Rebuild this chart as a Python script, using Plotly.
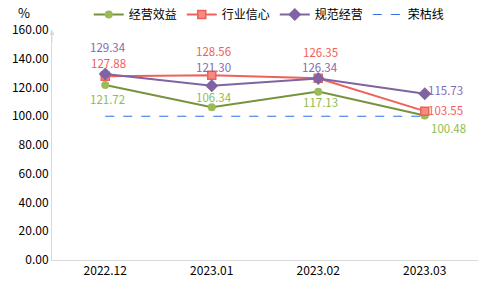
import plotly.graph_objects as go

categories = ["2022.12", "2023.01", "2023.02", "2023.03"]
jingying = [121.72, 106.34, 117.13, 100.48]
hangye = [127.88, 128.56, 126.35, 103.55]
guifan = [129.34, 121.30, 126.34, 115.73]
ronggu = [100, 100, 100, 100]

names = ["经营效益", "行业信心", "规范经营", "荣枯线"]

FONT = "Microsoft YaHei, Noto Sans CJK SC, sans-serif"
fig = go.Figure()

fig.add_trace(go.Scatter(x=categories, y=jingying, name=names[0], mode="lines+markers",
                         line=dict(color="#77933c", width=2),
                         marker=dict(symbol="circle", size=8, color="#9bbb59")))
fig.add_trace(go.Scatter(x=categories, y=hangye, name=names[1], mode="lines+markers",
                         line=dict(color="#f0605a", width=2),
                         marker=dict(symbol="square", size=8, color="#f58a84",
                                     line=dict(color="#f0605a", width=1.5))))
fig.add_trace(go.Scatter(x=categories, y=guifan, name=names[2], mode="lines+markers",
                         line=dict(color="#8064a2", width=2),
                         marker=dict(symbol="diamond", size=10, color="#8064a2")))
fig.add_trace(go.Scatter(x=categories, y=ronggu, name=names[3], mode="lines",
                         line=dict(color="#2f72e6", width=1.2, dash="dash")))

# label offsets (x shift, y shift) per series per point
label_specs = [
    (jingying, "#8fbc4f", [(2, -14), (2, 10), (2, -10), (24, -12)]),
    (hangye, "#f0605a", [(3, 13), (2, 24), (2, 26), (21, 1)]),
    (guifan, "#7f6bb0", [(3, 27), (2, 19), (2, 11), (21, 4)]),
]
for vals, col, offs in label_specs:
    for i, (v, (dx, dy)) in enumerate(zip(vals, offs)):
        fig.add_annotation(x=i, y=v, xref="x", yref="y", text=f"{v:.2f}", showarrow=False,
                           xshift=dx, yshift=dy, yanchor="middle", borderpad=0,
                           font=dict(family=FONT, size=11.5, color=col))

# y-axis arrow
fig.add_annotation(xref="paper", yref="paper", x=0, y=1.0, ax=0, ay=14,
                   showarrow=True, arrowhead=2, arrowsize=1, arrowwidth=1,
                   arrowcolor="#d9d9d9", text="")

fig.add_annotation(xref="paper", yref="paper", x=-0.065, y=1.0, yshift=18,
                   text="%", showarrow=False, xanchor="center", yanchor="middle",
                   font=dict(family=FONT, size=13, color="#000000"))

fig.update_layout(
    width=480, height=297,
    margin=dict(l=52, r=2, t=30, b=37, autoexpand=False),
    paper_bgcolor="white", plot_bgcolor="white",
    font=dict(family=FONT, size=12, color="#000000"),
    showlegend=True,
    legend=dict(orientation="h", x=0.51, xanchor="center", y=1.0, yanchor="top",
                yref="container", font=dict(family=FONT, size=12),
                itemwidth=30, tracegroupgap=0),
    xaxis=dict(type="category", range=[-0.5, 3.5], showgrid=False,
               showline=True, linecolor="#d9d9d9", linewidth=1,
               ticks="", tickfont=dict(size=12)),
    yaxis=dict(range=[0, 160], dtick=20, tickformat=".2f", showgrid=False,
               zeroline=False, showline=True, linecolor="#d9d9d9", linewidth=1,
               ticks="", tickfont=dict(size=12), ticklen=0),
)

fig.write_html("out.html")
